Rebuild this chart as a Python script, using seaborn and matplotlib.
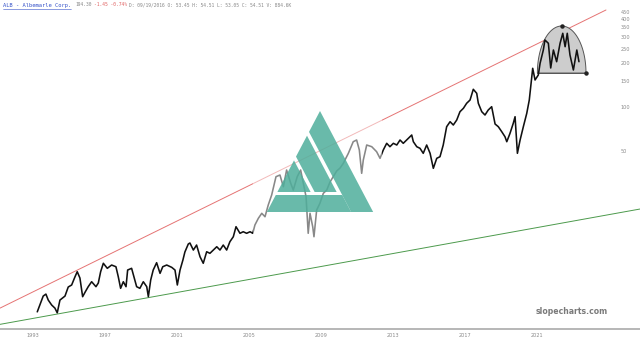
import numpy as np
import pandas as pd
import matplotlib
matplotlib.use("Agg")
import matplotlib.pyplot as plt
import matplotlib.transforms as mtransforms
from matplotlib.patches import Polygon
from matplotlib.lines import Line2D
import seaborn as sns

# ---------------- data ----------------
years = [1993.24, 1993.57, 1993.72, 1993.85, 1994.04, 1994.22, 1994.35, 1994.5, 1994.78, 1994.96,
         1995.15, 1995.33, 1995.46, 1995.61, 1995.76, 1995.91, 1996.07, 1996.26, 1996.5, 1996.63,
         1996.76, 1996.91, 1997.13, 1997.37, 1997.61, 1997.74, 1997.87, 1998.02, 1998.17, 1998.26,
         1998.48, 1998.61, 1998.76, 1998.94, 1999.13, 1999.32, 1999.41, 1999.54, 1999.68, 1999.87,
         2000.06, 2000.21, 2000.43, 2000.71, 2000.89, 2001.02, 2001.17, 2001.33, 2001.44, 2001.63,
         2001.72, 2001.91, 2002.09, 2002.28, 2002.46, 2002.65, 2002.83, 2003.02, 2003.21, 2003.39,
         2003.57, 2003.76, 2003.94, 2004.13, 2004.28, 2004.5, 2004.68, 2004.87, 2005.06, 2005.21,
         2005.33, 2005.52, 2005.71, 2005.89, 2006.07, 2006.26, 2006.5, 2006.72, 2006.91, 2007.09,
         2007.32, 2007.46, 2007.68, 2007.87, 2008.02, 2008.17, 2008.29, 2008.39, 2008.54, 2008.61,
         2008.76, 2008.94, 2009.13, 2009.32, 2009.5, 2009.68, 2009.87, 2010.06, 2010.24, 2010.52,
         2010.79, 2010.98, 2011.13, 2011.26, 2011.35, 2011.54, 2011.82, 2012.09, 2012.28, 2012.46,
         2012.65, 2012.83, 2013.02, 2013.21, 2013.39, 2013.57, 2013.85, 2014.04, 2014.13, 2014.32,
         2014.5, 2014.68, 2014.87, 2015.06, 2015.24, 2015.43, 2015.61, 2015.79, 2015.98, 2016.17,
         2016.35, 2016.54, 2016.72, 2016.91, 2017.09, 2017.28, 2017.46, 2017.65, 2017.74, 2017.93,
         2018.11, 2018.29, 2018.48, 2018.67, 2018.85, 2019.04, 2019.22, 2019.32, 2019.5, 2019.68,
         2019.78, 2019.91, 2020.06, 2020.24, 2020.43, 2020.57, 2020.65, 2020.76, 2020.89, 2021.07,
         2021.17, 2021.35, 2021.44, 2021.63, 2021.76, 2021.91, 2022.09, 2022.28, 2022.43, 2022.56,
         2022.68, 2022.83, 2023.02, 2023.21, 2023.33]
prices = [3.97, 5.09, 5.25, 4.78, 4.42, 4.21, 3.91, 4.78, 5.09, 5.87,
          6.06, 6.87, 7.47, 6.76, 5.04, 5.45, 5.90, 6.38, 5.90, 6.25,
          7.47, 8.53, 7.88, 8.30, 8.08, 6.90, 5.75, 6.38, 5.90, 7.67,
          7.88, 6.90, 5.90, 5.75, 6.38, 5.90, 5.04, 6.55, 7.67, 8.61,
          7.28, 8.08, 8.30, 8.00, 7.67, 6.06, 7.67, 8.98, 10.19, 11.56,
          11.74, 10.51, 11.37, 9.46, 8.53, 10.23, 9.98, 10.51, 11.07, 10.51,
          11.37, 10.51, 11.98, 12.96, 15.18, 13.68, 14.02, 13.68, 14.02, 13.68,
          15.59, 17.32, 18.74, 17.76, 21.36, 25.00, 33.36, 34.26, 28.49, 37.07,
          30.06, 27.05, 33.36, 37.07, 30.06, 24.34, 13.68, 18.74, 15.18, 12.96,
          19.74, 21.94, 25.68, 27.05, 30.68, 33.36, 36.49, 38.25, 41.19, 48.22,
          57.89, 59.46, 50.80, 35.19, 43.39, 54.96, 53.51, 49.45, 44.57, 50.80,
          56.45, 53.51, 56.45, 54.96, 59.46, 56.45, 61.07, 64.33, 57.89, 53.51,
          52.17, 48.22, 54.96, 48.22, 38.07, 44.57, 45.71, 54.96, 73.32, 79.33,
          75.31, 81.48, 92.87, 97.97, 106.0, 111.66, 132.16, 124.09, 106.0, 92.87,
          88.16, 95.38, 100.47, 76.51, 73.32, 67.77, 62.63, 57.89, 66.08, 77.36,
          85.83, 48.22, 59.46, 73.32, 90.56, 111.66, 137.68, 183.97, 153.01, 165.55,
          199.05, 245.45, 287.32, 272.78, 184.9, 245.45, 204.13, 272.78, 319.3, 258.55,
          319.3, 226.87, 179.12, 245.45, 204.13]

# trend lines (start/end points)
red_years = [1991.17, 2024.83]
red_prices = [4.21, 460.9]
green_years = [1991.17, 2026.72]
green_prices = [3.26, 20.05]

# dome (rounded top) annotation
dome_left, dome_right = 2021.02, 2023.72
dome_base, dome_top = 170.8, 358.2

y_ticks = [50, 100, 150, 200, 250, 300, 350, 400, 450]
x_ticks = [1993, 1997, 2001, 2005, 2009, 2013, 2017, 2021]
x_labels = [str(v) for v in x_ticks]

header_name = "ALB - Albemarle Corp."
header_last = "194.30"
header_change = "-1.45 -0.74%"
header_info = "D: 09/19/2016 O: 53.45 H: 54.51 L: 53.05 C: 54.51 V: 884.6K"

# ---------------- figure ----------------
sns.set_theme(style="white")
plt.rcParams["font.family"] = ["DejaVu Sans"]

W, H = 640, 343
fig = plt.figure(figsize=(W / 100, H / 100), dpi=100)
fig.patch.set_facecolor("white")
ax = fig.add_axes([0, 14 / H, 1, 329 / H])
ax.set_facecolor("white")

df = pd.DataFrame({"year": years, "price": prices})
df_red = pd.DataFrame({"year": red_years, "price": red_prices})
df_green = pd.DataFrame({"year": green_years, "price": green_prices})

sns.lineplot(data=df_red, x="year", y="price", color="#e57373", lw=0.7, ax=ax, zorder=2)
sns.lineplot(data=df_green, x="year", y="price", color="#4c9a4c", lw=0.7, ax=ax, zorder=2)

# dome
t = np.linspace(0, np.pi, 200)
cx = (dome_left + dome_right) / 2
ax_half = (dome_right - dome_left) / 2
lb, lt = np.log(dome_base), np.log(dome_top)
dx = cx + ax_half * np.cos(t)
dy = np.exp(lb + (lt - lb) * np.sin(t))
ax.fill(dx, dy, facecolor="#cdcdcd", edgecolor="#555555", lw=0.7, zorder=2.5)
ax.plot([dome_left, dome_right], [dome_base, dome_base], color="#555555", lw=0.7, zorder=2.6)
ax.plot([cx, dome_right], [dome_top, dome_base], ls="none", marker="o", ms=2.2,
        color="#222222", zorder=6)

sns.lineplot(data=df, x="year", y="price", color="#111111", lw=1.15, ax=ax,
             estimator=None, sort=False, zorder=3)

ax.set_yscale("log")
ax.set_xlim(1991.17, 2026.72)
ax.set_ylim(3.03, 539.5)

ax.yaxis.tick_right()
ax.set_yticks(y_ticks)
ax.set_yticklabels([str(v) for v in y_ticks])
ax.yaxis.set_minor_locator(matplotlib.ticker.NullLocator())
ax.tick_params(axis="y", length=0, pad=-14, labelsize=3.6, labelcolor="#8a8a8a")
ax.set_xticks(x_ticks)
ax.set_xticklabels(x_labels)
ax.tick_params(axis="x", length=0, pad=3, labelsize=3.6, labelcolor="#8a8a8a")
ax.set_xlabel("")
ax.set_ylabel("")
for s in ["top", "left", "right"]:
    ax.spines[s].set_visible(False)
ax.spines["bottom"].set_color("#aaaaaa")
ax.spines["bottom"].set_linewidth(1.2)
ax.grid(False)

# pixel transform (y down) for watermark decoration
pix = mtransforms.Affine2D().scale(1 / W, -1 / H).translate(0, 1) + fig.transFigure

# faded watermark box
ax.add_patch(Polygon([(253, 100), (382, 100), (382, 245), (253, 245)], closed=True,
                     transform=pix, facecolor="white", edgecolor="none", alpha=0.5, zorder=4))

# logo
apx, apy, sl = 320.0, 111.0, 1.9
ybar_top, ybar_bot = 195.0, 212.0
def rx(y, off=0.0):
    return apx + (y - apy) / sl + off
def lx(y):
    return apx - (y - apy) / sl
teal = "#4fae9b"
ax.add_patch(Polygon([(apx, apy), (rx(ybar_bot), ybar_bot), (rx(ybar_bot, -22), ybar_bot),
                      (lx(apy + 22 * sl / 2), apy + 22 * sl / 2)], closed=True,
                     transform=pix, facecolor=teal, edgecolor="none", alpha=0.85, zorder=5))
y1, y2 = apy + 26 * sl / 2, apy + 48 * sl / 2
ax.add_patch(Polygon([(lx(y1), y1), (rx(ybar_top - 3, -26), ybar_top - 3),
                      (rx(ybar_top - 3, -48), ybar_top - 3), (lx(y2), y2)], closed=True,
                     transform=pix, facecolor=teal, edgecolor="none", alpha=0.85, zorder=5))
y3 = apy + 52 * sl / 2
ax.add_patch(Polygon([(lx(y3), y3), (rx(ybar_top - 3, -52), ybar_top - 3),
                      (lx(ybar_top - 3), ybar_top - 3)], closed=True,
                     transform=pix, facecolor=teal, edgecolor="none", alpha=0.85, zorder=5))
ax.add_patch(Polygon([(lx(ybar_top), ybar_top), (rx(ybar_top, -22), ybar_top),
                      (rx(ybar_bot, -22), ybar_bot), (lx(ybar_bot), ybar_bot)], closed=True,
                     transform=pix, facecolor=teal, edgecolor="none", alpha=0.85, zorder=5))

# header
mono = "DejaVu Sans Mono"
fig.text(3 / W, 1 - 5 / H, header_name, color="#3350c8", fontsize=3.9, family=mono,
         va="center", ha="left")
fig.add_artist(Line2D([3 / W, 71 / W], [1 - 8.5 / H, 1 - 8.5 / H], color="#3350c8", lw=0.4))
fig.text(75 / W, 1 - 5 / H, header_last, color="#888888", fontsize=3.3, family=mono,
         va="center", ha="left")
fig.text(94 / W, 1 - 5 / H, header_change, color="#e06060", fontsize=3.3, family=mono,
         va="center", ha="left")
fig.text(129 / W, 1 - 5 / H, header_info, color="#888888", fontsize=3.3, family=mono,
         va="center", ha="left")

fig.text(608 / W, 1 - 312 / H, "slopecharts.com", color="#7a7a7a", fontsize=5.6,
         fontweight="bold", ha="right", va="center")

fig.savefig("out.png", dpi=100, facecolor="white")
